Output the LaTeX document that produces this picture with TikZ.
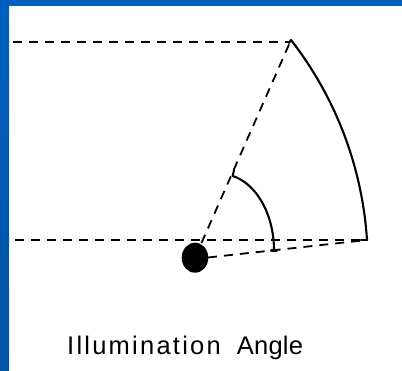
\documentclass[tikz,border=0pt]{standalone}
\usepackage{fontspec}
\usetikzlibrary{shapes.geometric}
\setmainfont{Liberation Sans}
\newfontfamily\wideLabel[LetterSpace=8.8]{Liberation Sans}
\newfontfamily\tightLabel[LetterSpace=1]{Liberation Sans}
\definecolor{frameTop}{RGB}{0,96,192}
\definecolor{frameBot}{RGB}{0,84,164}
\tikzset{
  guide/.style={line width=1.8pt, dash pattern=on 9pt off 7pt},
  arcline/.style={line width=2.1pt, line cap=round, line join=round},
}
\begin{document}
\begin{tikzpicture}[x=1pt,y=1pt]
\useasboundingbox (0,0) rectangle (402,371);
\fill[white] (0,0) rectangle (402,371);
% blue frame
\shade[top color=frameTop, bottom color=frameBot] (0,0) rectangle (9,371);
\fill[frameTop] (0,365) rectangle (402,371);
% key points
\coordinate (apex) at (291,331);
\coordinate (topl) at (13,329);
\coordinate (topr) at (289,329);
\coordinate (botl) at (15,131);
\coordinate (botr) at (367,131);
\coordinate (src) at (195,113.3);
\coordinate (srcr) at (208,113.5);
% dashed guides
\draw[guide] (topl) -- (topr);
\draw[guide] (botl) -- (botr);
\draw[guide] (src) -- (apex);
\draw[guide] (srcr) -- (botr);
% big arc (circle centred near left edge)
\draw[arcline] (289,328) -- (apex) arc[start angle=37.9, end angle=3.7, radius=364];
\draw[arcline] (367,131) -- (361,131);
% small arc
\draw[arcline] (234,201) -- (232.7,195) .. controls (257,187) and (274,156) .. (274,120.5);
\draw[arcline] (271,120.5) -- (277,120.5);
% source
\node[fill=black, ellipse, minimum width=26.6pt, minimum height=30pt, inner sep=0pt] (dot) at (src) {};
% label
\node[anchor=base west, inner sep=0pt] (lbl) at (67,16)
  {\fontsize{25.5}{30}\selectfont{\wideLabel Illumination}\hspace{16pt}{\tightLabel Angle}};
\end{tikzpicture}
\end{document}
